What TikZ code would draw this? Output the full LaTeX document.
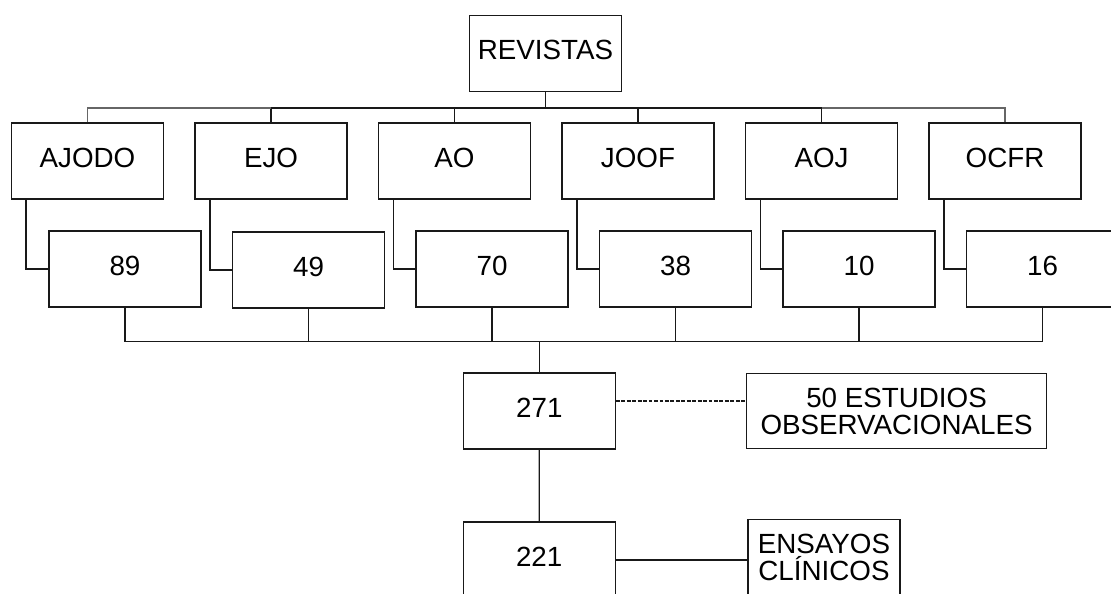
\documentclass[tikz,border=0pt]{standalone}
\usepackage{fontspec}
\setmainfont{Liberation Sans}
\usetikzlibrary{positioning}

\begin{document}
\begin{tikzpicture}[
  x=0.02cm, y=-0.02cm,
  node font=\fontsize{15.8}{15.4}\selectfont,
  frame/.style={draw=black!90, line width=0.75pt, align=center, inner sep=0pt},
  box/.style={frame, minimum width=3.04cm, minimum height=1.52cm, text depth=0.25em},
  note/.style={frame, minimum height=1.5cm},
  link/.style={draw=black!90, line width=0.75pt},
  fade/.style={draw=black!60, line width=1pt},
  aside/.style={draw=black!90, line width=0.7pt, dash pattern=on 2.2pt off 0.9pt}
]
\path[use as bounding box, clip] (0,0) rectangle (1111,593);

\node[box] (revistas) at (545.5,53.4) {REVISTAS};

% journals
\node[box] (ajodo) at (87.5,161) {AJODO};
\node[box] (ejo)   at (271,161)  {EJO};
\node[box] (ao)    at (454.5,161) {AO};
\node[box] (joof)  at (638,161)  {JOOF};
\node[box] (aoj)   at (821.5,161) {AOJ};
\node[box] (ocfr)  at (1005,161) {OCFR};

% counts
\node[box] (n89) at (125,269)   {89};
\node[box] (n49) at (308.5,270) {49};
\node[box] (n70) at (492,269)   {70};
\node[box] (n38) at (675.5,269) {38};
\node[box] (n10) at (859,269)   {10};
\node[box] (n16) at (1042.5,269) {16};

\node[box] (total) at (539.3,411) {271};
\node[note, minimum width=6cm, right=2.6cm of total] (obs) {50 ESTUDIOS\\OBSERVACIONALES};
\node[box] (final) at (539.2,560) {221};
\node[box, text depth=, right=2.63cm of final, yshift=1.5pt] (ensayos) {ENSAYOS\\CLÍNICOS};

% top tree
\draw[link] (revistas.south) -- ++(0,16) coordinate (topbus);
\draw[link] (ejo.north) |- (topbus);
\draw[link] (aoj.north) |- (topbus);
\draw[link] (ao.north) -- (ao.north |- topbus);
\draw[link] (joof.north) -- (joof.north |- topbus);
\draw[fade] (ajodo.north) |- (ejo.north |- topbus);
\draw[fade] (ocfr.north) |- (aoj.north |- topbus);

% journal to count
\draw[link] ([xshift=3mm]ajodo.south west) |- (n89.west);
\draw[link] ([xshift=3.1mm]ejo.south west) |- (n49.west);
\draw[link] ([xshift=3.1mm]ao.south west) |- (n70.west);
\draw[link] ([xshift=3.1mm]joof.south west) |- (n38.west);
\draw[link] ([xshift=3.1mm]aoj.south west) |- (n10.west);
\draw[link] ([xshift=3.1mm]ocfr.south west) |- (n16.west);

% bottom tree
\draw[link] (n89.south) -- ++(0,34) coordinate (lowbus) -| (n16.south);
\draw[link] (n49.south) -- (n49.south |- lowbus);
\draw[link] (n70.south) -- (n70.south |- lowbus);
\draw[link] (n38.south) -- (n38.south |- lowbus);
\draw[link] (n10.south) -- (n10.south |- lowbus);
\draw[link] (total.north) -- (total.north |- lowbus);

\draw[aside] ([yshift=2mm]total.east) -- ([yshift=2mm]total.east -| obs.west);
\draw[link] (total) -- (final);
\draw[link] (final.east) -- (final.east -| ensayos.west);
\end{tikzpicture}
\end{document}
